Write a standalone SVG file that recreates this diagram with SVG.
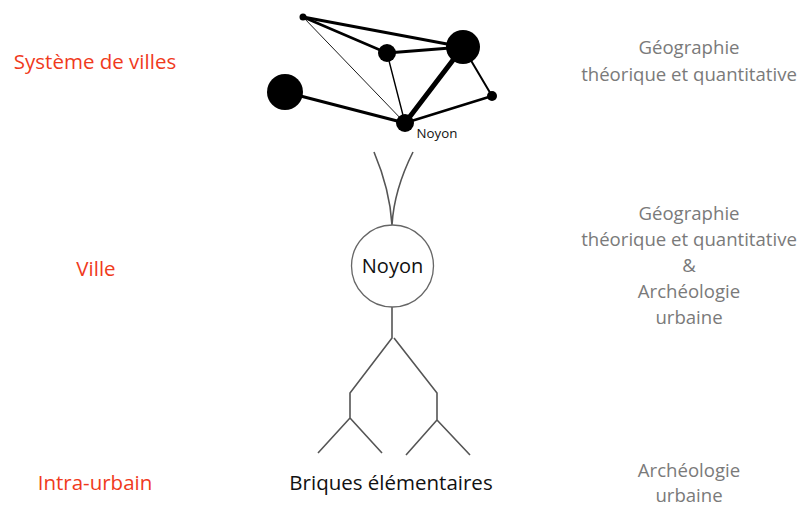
<svg xmlns="http://www.w3.org/2000/svg" width="802" height="507" viewBox="0 0 802 507">
<style>
.lbl{font-family:"Open Sans","Noto Sans",sans-serif;fill:#f03a1c;font-size:20.5px;text-anchor:middle}
.src{font-family:"Open Sans","Noto Sans",sans-serif;fill:#7a7a7a;font-size:18.6px;text-anchor:middle}
.blk{font-family:"Open Sans","Noto Sans",sans-serif;fill:#111;text-anchor:middle}
.edge{stroke:#000;stroke-linecap:round;fill:none}
.tree{stroke:#555;stroke-width:1.6;fill:none}
.city{fill:#000}
</style>
<rect width="802" height="507" fill="#fff"/>
<g id="connectors">
<line class="edge" x1="303" y1="17" x2="463" y2="47" stroke-width="3"/>
<line class="edge" x1="303" y1="17" x2="387" y2="53" stroke-width="2.5"/>
<line class="edge" x1="303" y1="17" x2="405" y2="123" stroke-width="0.9"/>
<line class="edge" x1="387" y1="53" x2="463" y2="47" stroke-width="3"/>
<line class="edge" x1="387" y1="53" x2="405" y2="123" stroke-width="1.4"/>
<line class="edge" x1="463" y1="47" x2="405" y2="123" stroke-width="5"/>
<line class="edge" x1="463" y1="47" x2="492" y2="96" stroke-width="2"/>
<line class="edge" x1="492" y1="96" x2="405" y2="123" stroke-width="2.5"/>
<line class="edge" x1="285" y1="92" x2="405" y2="123" stroke-width="3"/>
<path class="tree" d="M374,152 Q390,190 392,225 M413,152 Q394,190 392,225 M392,218 V226"/>
<path class="tree" d="M392,307 V338 L350,393 V418 L318,453 M350,418 L382,453 M394,338 L437,393 V420 L406,455 M437,420 L470,455"/>
</g>
<g id="city-nw"><circle class="city" cx="303" cy="17" r="3.5"/></g>
<g id="city-mid"><circle class="city" cx="387" cy="53" r="9"/></g>
<g id="city-ne"><circle class="city" cx="463" cy="47" r="17"/></g>
<g id="city-e"><circle class="city" cx="492" cy="96" r="5"/></g>
<g id="city-w"><circle class="city" cx="285" cy="92" r="18"/></g>
<g id="city-noyon"><circle class="city" cx="405" cy="123" r="9"/><text class="blk" x="437" y="138" font-size="13.3">Noyon</text></g>
<g id="ville-noyon"><circle cx="392.5" cy="266" r="41" fill="#fff" stroke="#666" stroke-width="1.3"/><text class="blk" x="392.5" y="273" font-size="20">Noyon</text></g>
<g id="briques"><text class="blk" x="391" y="490" font-size="20.5">Briques élémentaires</text></g>
<g id="labels-left">
<text class="lbl" x="95" y="69">Système de villes</text>
<text class="lbl" x="96" y="276">Ville</text>
<text class="lbl" x="95" y="490">Intra-urbain</text>
</g>
<g id="labels-right">
<text class="src" x="689" y="54">Géographie</text>
<text class="src" x="689" y="81">théorique et quantitative</text>
<text class="src" x="689" y="220">Géographie</text>
<text class="src" x="689" y="246">théorique et quantitative</text>
<text class="src" x="689" y="272">&amp;</text>
<text class="src" x="689" y="298">Archéologie</text>
<text class="src" x="689" y="324">urbaine</text>
<text class="src" x="689" y="477">Archéologie</text>
<text class="src" x="689" y="502">urbaine</text>
</g>
</svg>
